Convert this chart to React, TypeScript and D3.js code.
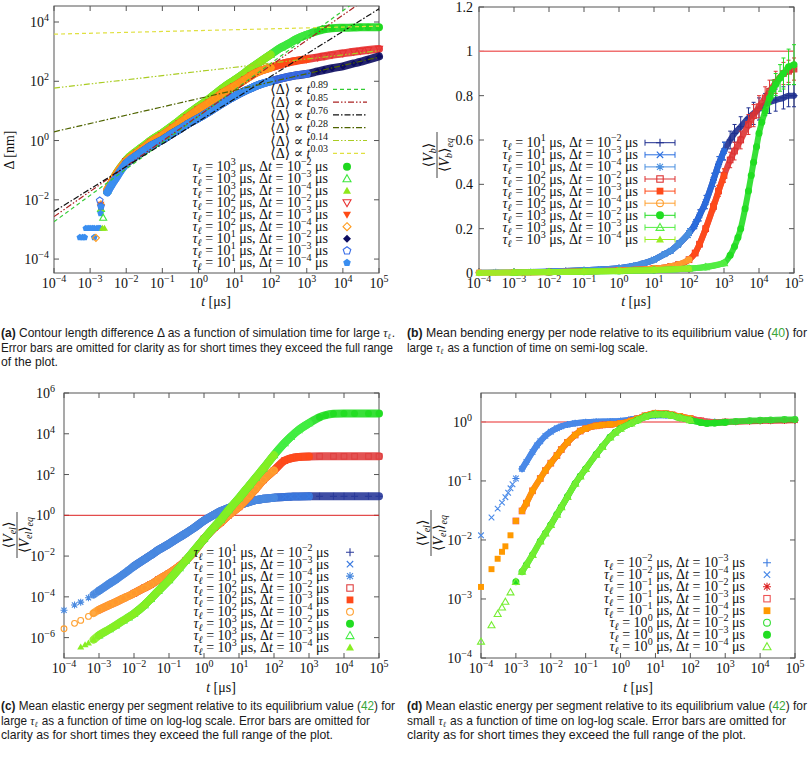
import React from "react";
import * as d3 from "d3";

type Pt = [number, number];
type PtE = [number, number, number];

// ================= Panel (a): contour length difference Δ [nm] vs t [μs]
const aGroupTau10: Pt[] = [
  [2e-3, 0.006], [3e-3, 0.018], [4e-3, 0.033], [5e-3, 0.05], [7e-3, 0.095],
  [1e-2, 0.17], [2e-2, 0.32], [3e-2, 0.45], [5e-2, 0.68], [0.1, 1.05], [0.2, 1.8], [0.3, 2.4], [0.5, 3.6],
  [1, 5.7], [2, 9.5], [3, 13], [5, 19], [10, 31], [20, 48], [30, 60], [50, 78], [100, 100], [200, 125],
  [300, 140], [500, 158], [1e3, 178], [2e3, 215], [3e3, 240], [5e3, 275], [1e4, 320], [2e4, 400],
  [3e4, 450], [5e4, 540], [1e5, 690],
];
const aGroupTau100: Pt[] = [
  [2e-3, 0.007], [3e-3, 0.022], [4e-3, 0.04], [5e-3, 0.065], [7e-3, 0.12],
  [1e-2, 0.2], [2e-2, 0.38], [3e-2, 0.55], [5e-2, 0.9], [0.1, 1.5], [0.2, 2.7], [0.3, 3.8], [0.5, 6],
  [1, 11], [2, 19], [3, 27], [5, 42], [10, 68], [20, 115], [30, 160], [50, 220], [100, 290], [200, 380],
  [300, 430], [500, 490], [1e3, 560], [2e3, 640], [3e3, 700], [5e3, 780], [1e4, 880], [2e4, 990],
  [3e4, 1050], [5e4, 1130], [1e5, 1230],
];
const aGroupTau1000: Pt[] = [
  [2e-3, 0.005], [3e-3, 0.02], [4e-3, 0.04], [5e-3, 0.068], [7e-3, 0.125],
  [1e-2, 0.22], [2e-2, 0.45], [3e-2, 0.65], [5e-2, 1.05], [0.1, 1.8], [0.2, 3.3], [0.3, 4.8], [0.5, 7.8],
  [1, 14], [2, 26], [3, 38], [5, 62], [10, 110], [20, 200], [30, 290], [50, 450], [100, 800], [200, 1400],
  [300, 1800], [500, 2600], [1e3, 3700], [2e3, 5000], [3e3, 5700], [5e3, 6200], [1e4, 6400], [2e4, 6500],
  [3e4, 6600], [5e4, 6600], [1e5, 6600],
];
// early noisy points: [t, value, series index]
const aEarlyScatter: PtE[] = [
  [5.2e-4, 5.4e-4, 8], [6.2e-4, 5.4e-4, 8], [7.1e-4, 5.4e-4, 8], [7.6e-4, 1.1e-3, 8], [8.8e-4, 1.1e-3, 8],
  [1e-3, 1.1e-3, 8], [1.15e-3, 1.1e-3, 8], [1.3e-3, 1.1e-3, 8], [1.3e-3, 5.4e-4, 8], [1.45e-3, 5.2e-4, 5],
  [1.55e-3, 1.1e-3, 8], [1.75e-3, 1.1e-3, 8], [1.9e-3, 1.1e-3, 8], [1.85e-3, 9.5e-3, 7], [1.95e-3, 3.5e-3, 8],
  [2.2e-3, 1.1e-3, 2], [2.5e-3, 1.1e-3, 2], [2.3e-3, 2.5e-3, 1],
];
const aFitExponents = [0.89, 0.85, 0.76, 0.28, 0.14, 0.03];
const aFitPrefactors = [6.6, 6.8, 4.4, 26, 214, 5130];
const aSeriesTauExp = [3, 3, 3, 2, 2, 2, 1, 1, 1];
const aSeriesDtExp = [-2, -3, -4, -2, -3, -4, -2, -3, -4];
const aSeriesGroup = [2, 2, 2, 1, 1, 1, 0, 0, 0];

// ================= Panel (b): bending energy ratio (t, value, error)
const bGroupTau10: PtE[] = [
  [1e-4, 0.002, 0], [3e-4, 0.003, 0], [1e-3, 0.004, 0], [3e-3, 0.005, 0], [1e-2, 0.007, 0], [3e-2, 0.009, 0],
  [0.1, 0.012, 0], [0.3, 0.016, 0], [1, 0.022, 0], [2, 0.028, 0], [3, 0.034, 0], [5, 0.043, 0], [10, 0.06, 0.005],
  [20, 0.085, 0.01], [30, 0.1, 0.01], [50, 0.13, 0.015], [100, 0.18, 0.02], [150, 0.22, 0.02], [200, 0.26, 0.025],
  [300, 0.32, 0.03], [500, 0.42, 0.03], [700, 0.49, 0.035], [1e3, 0.55, 0.04], [1.5e3, 0.6, 0.04], [2e3, 0.63, 0.04],
  [3e3, 0.66, 0.045], [5e3, 0.7, 0.045], [7e3, 0.72, 0.05], [1e4, 0.74, 0.05], [1.5e4, 0.76, 0.05], [2e4, 0.77, 0.05],
  [3e4, 0.78, 0.05], [5e4, 0.79, 0.05], [7e4, 0.8, 0.05], [1e5, 0.8, 0.05],
];
const bGroupTau100: PtE[] = [
  [1e-4, 0.001, 0], [1e-3, 0.002, 0], [1e-2, 0.004, 0], [0.1, 0.007, 0], [1, 0.011, 0], [10, 0.02, 0], [30, 0.03, 0],
  [50, 0.038, 0], [100, 0.06, 0.005], [150, 0.09, 0.01], [200, 0.13, 0.01], [300, 0.2, 0.015], [500, 0.3, 0.02],
  [700, 0.37, 0.025], [1e3, 0.44, 0.03], [1.5e3, 0.51, 0.035], [2e3, 0.55, 0.04], [3e3, 0.6, 0.04], [5e3, 0.67, 0.045],
  [7e3, 0.71, 0.05], [1e4, 0.75, 0.05], [1.5e4, 0.79, 0.05], [2e4, 0.82, 0.05], [3e4, 0.86, 0.05], [5e4, 0.9, 0.05],
  [7e4, 0.91, 0.05], [1e5, 0.92, 0.05],
];
const bGroupTau1000: PtE[] = [
  [1e-4, 0.0, 0], [1e-3, 0.002, 0], [1e-2, 0.004, 0], [0.1, 0.006, 0], [1, 0.009, 0], [10, 0.013, 0], [100, 0.02, 0],
  [300, 0.027, 0], [1e3, 0.045, 0], [1.5e3, 0.08, 0], [2e3, 0.12, 0], [2.5e3, 0.16, 0], [3e3, 0.2, 0], [4e3, 0.29, 0],
  [5e3, 0.37, 0], [6e3, 0.44, 0], [7e3, 0.5, 0], [8.5e3, 0.57, 0], [1e4, 0.63, 0.01], [1.2e4, 0.68, 0.01],
  [1.5e4, 0.73, 0.02], [2e4, 0.79, 0.03], [2.5e4, 0.83, 0.04], [3e4, 0.85, 0.05], [4e4, 0.88, 0.06], [5e4, 0.9, 0.07],
  [7e4, 0.93, 0.08], [1e5, 0.94, 0.09],
];
const bSeriesTauExp = [1, 1, 1, 2, 2, 2, 3, 3, 3];
const bSeriesDtExp = [-2, -3, -4, -2, -3, -4, -2, -3, -4];
const bSeriesGroup = [0, 0, 0, 1, 1, 1, 2, 2, 2];
const bYTicks = [0, 0.2, 0.4, 0.6, 0.8, 1, 1.2];

// ================= Panel (c): elastic energy ratio, large τ
const cGroupTau10: Pt[] = [
  [1e-4, 2.2e-5], [2e-4, 4e-5], [3e-4, 5.5e-5], [5e-4, 9e-5], [7e-4, 1.3e-4], [1e-3, 2e-4], [2e-3, 4.5e-4],
  [3e-3, 7e-4], [5e-3, 1.3e-3], [7e-3, 2e-3], [1e-2, 3.2e-3], [2e-2, 7e-3], [3e-2, 0.011], [5e-2, 0.02],
  [0.1, 0.04], [0.2, 0.085], [0.3, 0.13], [0.5, 0.23], [1, 0.55], [2, 1.1], [3, 1.6], [5, 2.3], [10, 3.2],
  [20, 4.6], [30, 5.5], [50, 6.5], [100, 7.3], [200, 8], [300, 8.2], [500, 8.4], [1e3, 8.5], [2e3, 8.5],
  [5e3, 8.5], [1e4, 8.5], [2e4, 8.5], [5e4, 8.5], [1e5, 8.5],
];
const cGroupTau100: Pt[] = [
  [1e-4, 2.7e-6], [2e-4, 5e-6], [3e-4, 7e-6], [5e-4, 1.1e-5], [7e-4, 1.6e-5], [1e-3, 2.3e-5], [2e-3, 4e-5],
  [3e-3, 5.5e-5], [5e-3, 8.5e-5], [7e-3, 1.1e-4], [1e-2, 1.5e-4], [2e-2, 2.8e-4], [3e-2, 4e-4], [5e-2, 7e-4],
  [0.1, 1.4e-3], [0.2, 3.2e-3], [0.3, 6e-3], [0.5, 0.015], [1, 0.07], [2, 0.25], [3, 0.45], [5, 1.0], [10, 2.6],
  [20, 9], [30, 20], [50, 55], [100, 160], [200, 480], [300, 620], [500, 730], [1e3, 770], [2e3, 780],
  [5e3, 780], [1e4, 780], [2e4, 780], [5e4, 780], [1e5, 780],
];
const cGroupTau1000: Pt[] = [
  [3e-4, 3.5e-7], [4e-4, 4.5e-7], [5e-4, 5.5e-7], [7e-4, 8e-7], [1e-3, 1.3e-6], [2e-3, 2.6e-6], [3e-3, 4e-6],
  [5e-3, 7e-6], [7e-3, 1e-5], [1e-2, 1.5e-5], [2e-2, 4e-5], [3e-2, 8e-5], [5e-2, 2e-4], [0.1, 6.6e-4],
  [0.2, 2.6e-3], [0.3, 6e-3], [0.5, 0.017], [1, 0.07], [2, 0.28], [3, 0.6], [5, 1.8], [10, 7], [20, 30],
  [30, 70], [50, 200], [100, 900], [200, 3500], [300, 7000], [500, 15000], [1e3, 33000], [2e3, 65000],
  [3e3, 82000], [5e3, 95000], [1e4, 100000], [2e4, 100000], [5e4, 100000], [1e5, 100000],
];
const cSeriesTauExp = [1, 1, 1, 2, 2, 2, 3, 3, 3];
const cSeriesDtExp = [-2, -3, -4, -2, -3, -4, -2, -3, -4];
const cSeriesGroup = [0, 0, 0, 1, 1, 1, 2, 2, 2];

// ================= Panel (d): elastic energy ratio, small τ
const dGroupTauM2: Pt[] = [
  [1e-4, 0.012], [2e-4, 0.024], [3e-4, 0.034], [4e-4, 0.043], [5e-4, 0.053], [6e-4, 0.063], [7e-4, 0.075],
  [8e-4, 0.088], [1e-3, 0.11], [1.5e-3, 0.16], [2e-3, 0.21], [3e-3, 0.31], [4e-3, 0.4], [5e-3, 0.47],
  [7e-3, 0.58], [1e-2, 0.68], [1.5e-2, 0.78], [2e-2, 0.84], [3e-2, 0.9], [5e-2, 0.95], [0.1, 0.99],
  [0.2, 1.01], [0.5, 1.02], [1, 1.04], [2, 1.1], [5, 1.22], [10, 1.3], [20, 1.3], [50, 1.2], [100, 1.1],
  [200, 1.03], [500, 1.0], [1e3, 1.0],
];
const dGroupTauM1: Pt[] = [
  [1e-4, 1.6e-3], [2e-4, 3.2e-3], [3e-4, 4.8e-3], [4e-4, 6.3e-3], [5e-4, 7.8e-3], [7e-4, 0.012], [1e-3, 0.021],
  [1.5e-3, 0.031], [2e-3, 0.042], [3e-3, 0.068], [5e-3, 0.11], [7e-3, 0.15], [1e-2, 0.2], [1.5e-2, 0.27],
  [2e-2, 0.34], [3e-2, 0.45], [5e-2, 0.6], [7e-2, 0.7], [0.1, 0.77], [0.2, 0.86], [0.3, 0.89], [0.5, 0.91],
  [1, 0.94], [2, 1.04], [3, 1.13], [5, 1.27], [10, 1.4], [20, 1.38], [30, 1.32], [50, 1.24], [100, 1.14],
  [200, 1.05], [300, 1.0], [500, 0.98], [1e3, 1.0], [2e3, 1.01], [5e3, 1.03], [1e4, 1.04], [2e4, 1.05],
  [5e4, 1.06], [1e5, 1.07],
];
const dGroupTau0: Pt[] = [
  [1e-4, 1.9e-4], [2e-4, 3.6e-4], [3e-4, 5.6e-4], [4e-4, 7.2e-4], [5e-4, 9e-4], [7e-4, 1.3e-3], [1e-3, 1.95e-3],
  [1.5e-3, 2.9e-3], [2e-3, 3.8e-3], [3e-3, 5.6e-3], [5e-3, 9.5e-3], [7e-3, 0.013], [1e-2, 0.018], [1.5e-2, 0.027],
  [2e-2, 0.036], [3e-2, 0.054], [5e-2, 0.09], [7e-2, 0.12], [0.1, 0.16], [0.2, 0.28], [0.3, 0.38], [0.5, 0.55],
  [0.7, 0.66], [1, 0.77], [2, 0.95], [3, 1.07], [5, 1.22], [10, 1.35], [20, 1.33], [30, 1.28], [50, 1.18],
  [100, 1.07], [200, 0.98], [300, 0.95], [500, 0.96], [1e3, 0.99], [2e3, 1.02], [5e3, 1.05], [1e4, 1.07],
  [2e4, 1.08], [5e4, 1.1], [1e5, 1.1],
];
const dSeriesTauExp = [-2, -2, -1, -1, -1, 0, 0, 0];
const dSeriesDtExp = [-3, -4, -2, -3, -4, -2, -3, -4];
const dSeriesGroup = [0, 0, 1, 1, 1, 2, 2, 2];

// simulation windows by time step exponent
const simStart: Record<string, number> = { "-2": 1e-2, "-3": 1e-3, "-4": 1e-4 };
const simEnd: Record<string, number> = { "-2": 1e5, "-3": 1e3, "-4": 1e2 };
const decadeExps = [-4, -3, -2, -1, 0, 1, 2, 3, 4, 5];

// ================= styles
const SERIF = "'Liberation Serif','DejaVu Serif','Times New Roman',serif";
const SANS = "'Liberation Sans',Arial,'DejaVu Sans',sans-serif";
const AX = "#555";
const FS = 14;
const FSS = 10;
const aColors = ["#1fd81f", "#3ee83e", "#8ee81a", "#e83030", "#ff4a14", "#ff9a1a", "#0c0c60", "#3a6ee8", "#3a8ef0"];
const aShapes = ["circle", "triUpOpen", "triUp", "triDownOpen", "triDown", "diamondOpen", "diamond", "pentagonOpen", "pentagon"];
const aFitColors = ["#33cc33", "#aa2222", "#111111", "#4f6400", "#aacc22", "#e0e040"];
const aFitDash = ["4,3", "6,2,1.5,2,1.5,2", "6,2,1.5,2", "6,2,1.5,2", "6,2,1.5,2,1.5,2", "4,3"];
const bColors = ["#1f2f8f", "#2a6ee0", "#4a90e0", "#dd3333", "#ff4a1a", "#ffa030", "#22dd22", "#55ee44", "#99ee22"];
const bShapes = ["plus", "cross", "star", "squareOpen", "square", "circleOpen", "circle", "triUpOpen", "triUp"];
const cColors = ["#2a3a9a", "#3a7ae0", "#4a8ae0", "#e04040", "#ff4a1a", "#ffa030", "#22dd22", "#44ee44", "#88ee22"];
const cShapes = ["plus", "cross", "star", "squareOpen", "square", "circleOpen", "circle", "triUpOpen", "triUp"];
const dColors = ["#3a7ae0", "#4a8ae8", "#dd2222", "#ee5555", "#ff9900", "#33dd33", "#22dd22", "#77ee33"];
const dShapes = ["plus", "cross", "star", "squareOpen", "square", "circleOpen", "circle", "triUpOpen"];

const expStr = (e: number) => (e < 0 ? "\u2212" + Math.abs(e) : String(e));

function Marker({ shape, x, y, c, s }: any) {
  const r = s / 2;
  const sw = 1.1;
  switch (shape) {
    case "circle":
      return <circle cx={x} cy={y} r={r} fill={c} />;
    case "circleOpen":
      return <circle cx={x} cy={y} r={r - 0.6} fill="none" stroke={c} strokeWidth={sw} />;
    case "square":
      return <rect x={x - r * 0.85} y={y - r * 0.85} width={r * 1.7} height={r * 1.7} fill={c} />;
    case "squareOpen":
      return <rect x={x - r * 0.8} y={y - r * 0.8} width={r * 1.6} height={r * 1.6} fill="none" stroke={c} strokeWidth={sw} />;
    case "triUp":
    case "triUpOpen": {
      const d = `M${x},${y - r} L${x + r},${y + r * 0.75} L${x - r},${y + r * 0.75}Z`;
      return shape === "triUp" ? <path d={d} fill={c} /> : <path d={d} fill="none" stroke={c} strokeWidth={sw} />;
    }
    case "triDown":
    case "triDownOpen": {
      const d = `M${x},${y + r} L${x + r},${y - r * 0.75} L${x - r},${y - r * 0.75}Z`;
      return shape === "triDown" ? <path d={d} fill={c} /> : <path d={d} fill="none" stroke={c} strokeWidth={sw} />;
    }
    case "diamond":
    case "diamondOpen": {
      const d = `M${x},${y - r} L${x + r},${y} L${x},${y + r} L${x - r},${y}Z`;
      return shape === "diamond" ? <path d={d} fill={c} /> : <path d={d} fill="none" stroke={c} strokeWidth={sw} />;
    }
    case "pentagon":
    case "pentagonOpen": {
      const pts = d3.range(5).map((k) => {
        const a = -Math.PI / 2 + (k * 2 * Math.PI) / 5;
        return `${x + r * Math.cos(a)},${y + r * Math.sin(a)}`;
      });
      const d = `M${pts.join(" L")}Z`;
      return shape === "pentagon" ? <path d={d} fill={c} /> : <path d={d} fill="none" stroke={c} strokeWidth={sw} />;
    }
    case "plus":
      return <path d={`M${x - r},${y} H${x + r} M${x},${y - r} V${y + r}`} stroke={c} strokeWidth={sw} />;
    case "cross": {
      const q = r * 0.8;
      return <path d={`M${x - q},${y - q} L${x + q},${y + q} M${x - q},${y + q} L${x + q},${y - q}`} stroke={c} strokeWidth={sw} />;
    }
    case "star": {
      const q = r * 0.75;
      return (
        <path
          d={`M${x - r},${y} H${x + r} M${x},${y - r} V${y + r} M${x - q},${y - q} L${x + q},${y + q} M${x - q},${y + q} L${x + q},${y - q}`}
          stroke={c}
          strokeWidth={sw}
        />
      );
    }
    default:
      return null;
  }
}

function Pow10({ x, y, e, anchor = "middle" }: any) {
  return (
    <text x={x} y={y} textAnchor={anchor} fontFamily={SERIF} fontSize={FS} fill="#111">
      10<tspan dy={-6} fontSize={FSS}>{expStr(e)}</tspan>
    </text>
  );
}

function Frame({ xs, ys, yTicks, yLog, yGap }: any) {
  const [x0, x1] = xs.range();
  const [yb, yt] = ys.range();
  const L = 5;
  return (
    <g>
      <rect x={x0} y={yt} width={x1 - x0} height={yb - yt} fill="none" stroke={AX} strokeWidth={1} />
      {decadeExps.map((e) => {
        const x = xs(Math.pow(10, e));
        return (
          <g key={"x" + e}>
            <line x1={x} x2={x} y1={yb} y2={yb - L} stroke={AX} />
            <line x1={x} x2={x} y1={yt} y2={yt + L} stroke={AX} />
            <Pow10 x={x} y={yb + 15} e={e} />
          </g>
        );
      })}
      {yTicks.map((v: number, i: number) => {
        const y = ys(v);
        return (
          <g key={"y" + i}>
            <line x1={x0} x2={x0 + L} y1={y} y2={y} stroke={AX} />
            <line x1={x1} x2={x1 - L} y1={y} y2={y} stroke={AX} />
            {yLog ? (
              <Pow10 x={x0 - yGap} y={y + 5} e={Math.round(Math.log10(v))} anchor="end" />
            ) : (
              <text x={x0 - yGap} y={y + 5} textAnchor="end" fontFamily={SERIF} fontSize={FS} fill="#111">
                {String(+v.toFixed(1))}
              </text>
            )}
          </g>
        );
      })}
    </g>
  );
}

function SeriesLayer({ groups, dtExp, groupOf, colors, shapes, xs, ys, size, band, bandFrom, errors }: any) {
  return (
    <g>
      {dtExp.map((dt: number, i: number) => {
        const lo = simStart[String(dt)];
        const hi = simEnd[String(dt)];
        const pts = groups[groupOf[i]].filter((p: number[]) => p[0] >= lo && p[0] <= hi);
        const bandPts = pts.filter((p: number[]) => p[0] >= bandFrom);
        const line = d3
          .line<number[]>()
          .x((d) => xs(d[0]))
          .y((d) => ys(d[1]))
          .curve(d3.curveMonotoneX);
        return (
          <g key={i}>
            {bandPts.length > 1 && (
              <path d={line(bandPts) || ""} fill="none" stroke={colors[i]} strokeWidth={band} strokeLinecap="round" strokeLinejoin="round" opacity={0.9} />
            )}
            {errors &&
              pts
                .filter((p: number[]) => p[2] > 0)
                .map((p: number[], k: number) => {
                  const x = xs(p[0]);
                  const ya = ys(p[1] - p[2]);
                  const yb = ys(p[1] + p[2]);
                  return (
                    <path key={"e" + k} d={`M${x},${ya} V${yb} M${x - 2},${ya} H${x + 2} M${x - 2},${yb} H${x + 2}`} stroke={colors[i]} strokeWidth={1} fill="none" />
                  );
                })}
            {pts.map((p: number[], k: number) => (
              <Marker key={k} shape={shapes[i]} x={xs(p[0])} y={ys(p[1])} c={colors[i]} s={size} />
            ))}
          </g>
        );
      })}
    </g>
  );
}

function TauLabel({ x, y, tau, dt }: any) {
  return (
    <text x={x} y={y} textAnchor="end" fontFamily={SERIF} fontSize={FS} fill="#111">
      <tspan fontStyle="italic">τ</tspan>
      <tspan fontSize={FSS} dy={3} fontStyle="italic">ℓ</tspan>
      <tspan dy={-3}>{" = 10"}</tspan>
      <tspan fontSize={FSS} dy={-6}>{expStr(tau)}</tspan>
      <tspan dy={6}>{" μs, Δ"}</tspan>
      <tspan fontStyle="italic">t</tspan>
      <tspan>{" = 10"}</tspan>
      <tspan fontSize={FSS} dy={-6}>{expStr(dt)}</tspan>
      <tspan dy={6}>{" μs"}</tspan>
    </text>
  );
}

function Legend({ tauExp, dtExp, colors, shapes, textX, markX, y0, step, errBar }: any) {
  return (
    <g>
      {tauExp.map((t: number, i: number) => {
        const y = y0 + i * step;
        return (
          <g key={i}>
            <TauLabel x={textX} y={y + 4.5} tau={t} dt={dtExp[i]} />
            {errBar && (
              <path d={`M${markX - 15},${y} H${markX + 15} M${markX - 15},${y - 3} V${y + 3} M${markX + 15},${y - 3} V${y + 3}`} stroke={colors[i]} strokeWidth={1} fill="none" />
            )}
            <Marker shape={shapes[i]} x={markX} y={y} c={colors[i]} s={8} />
          </g>
        );
      })}
    </g>
  );
}

function XLabel({ x, y }: any) {
  return (
    <text x={x} y={y} textAnchor="middle" fontFamily={SERIF} fontSize={FS} fill="#111">
      <tspan fontStyle="italic">t</tspan>
      {" [μs]"}
    </text>
  );
}

function FracLabel({ cx, cy, sub, w }: any) {
  return (
    <g transform={`translate(${cx},${cy}) rotate(-90)`} fontFamily={SERIF} fontSize={FS} fill="#111">
      <text x={0} y={-4} textAnchor="middle">
        ⟨<tspan fontStyle="italic">V</tspan>
        <tspan fontSize={FSS} dy={3} fontStyle="italic">{sub}</tspan>
        <tspan dy={-3}>⟩</tspan>
      </text>
      <line x1={-w / 2} x2={w / 2} y1={0} y2={0} stroke="#111" strokeWidth={0.8} />
      <text x={0} y={12} textAnchor="middle">
        ⟨<tspan fontStyle="italic">V</tspan>
        <tspan fontSize={FSS} dy={3} fontStyle="italic">{sub}</tspan>
        <tspan dy={-3}>⟩</tspan>
        <tspan fontSize={FSS} dy={4} fontStyle="italic">eq</tspan>
      </text>
    </g>
  );
}

function TauSym() {
  return (
    <>
      <tspan fontFamily={SERIF} fontStyle="italic">τ</tspan>
      <tspan fontFamily={SERIF} fontStyle="italic" fontSize={8} dy={2}>ℓ</tspan>
      <tspan dy={-2}>{"\u200A"}</tspan>
    </>
  );
}

function Cap({ x, y, w, children }: any) {
  return (
    <text x={x} y={y} fontFamily={SANS} fontSize={13} fill="#1a1a1a" textLength={w} lengthAdjust="spacingAndGlyphs">
      {children}
    </text>
  );
}

export default function App() {
  const xsA = d3.scaleLog().domain([1e-4, 1e5]).range([54, 379]);
  const ysA = d3.scaleLog().domain([Math.pow(10, -4.47), Math.pow(10, 4.54)]).range([273, 6]);
  const xsB = d3.scaleLog().domain([1e-4, 1e5]).range([479, 794]);
  const ysB = d3.scaleLinear().domain([0, 1.2]).range([273, 7]);
  const xsC = d3.scaleLog().domain([1e-4, 1e5]).range([64, 379]);
  const ysC = d3.scaleLog().domain([1e-7, 1e6]).range([658, 393]);
  const xsD = d3.scaleLog().domain([1e-4, 1e5]).range([481, 795]);
  const ysD = d3.scaleLog().domain([1e-4, Math.pow(10, 0.49)]).range([658, 393]);

  const aGroups = [aGroupTau10, aGroupTau100, aGroupTau1000];
  const bGroups = [bGroupTau10, bGroupTau100, bGroupTau1000];
  const cGroups = [cGroupTau10, cGroupTau100, cGroupTau1000];
  const dGroups = [dGroupTauM2, dGroupTauM1, dGroupTau0];

  const green = "#3aa63a";

  return (
    <svg width={810} height={761} style={{ position: "absolute", left: 0, top: 0 }} xmlns="http://www.w3.org/2000/svg">
      <rect width={810} height={761} fill="#fff" />
      <defs>
        <clipPath id="clipA">
          <rect x={54} y={6} width={325} height={267} />
        </clipPath>
      </defs>

      {/* ---------------- Panel (a) */}
      <Frame xs={xsA} ys={ysA} yTicks={[1e-4, 1e-2, 1, 1e2, 1e4]} yLog={true} yGap={5} />
      <SeriesLayer groups={aGroups} dtExp={aSeriesDtExp} groupOf={aSeriesGroup} colors={aColors} shapes={aShapes} xs={xsA} ys={ysA} size={7} band={8} bandFrom={3e-3} />
      {aEarlyScatter.map((p, k) => (
        <Marker key={k} shape={aShapes[p[2]]} x={xsA(p[0])} y={ysA(p[1])} c={aColors[p[2]]} s={7} />
      ))}
      <g clipPath="url(#clipA)">
        {aFitExponents.map((k, i) => {
          const pts: Pt[] = [1e-4, 1e5].map((t) => [t, aFitPrefactors[i] * Math.pow(t, k)] as Pt);
          const ln = d3.line<Pt>().x((d) => xsA(d[0])).y((d) => ysA(d[1]));
          return <path key={i} d={ln(pts) || ""} fill="none" stroke={aFitColors[i]} strokeWidth={1.2} strokeDasharray={aFitDash[i]} />;
        })}
      </g>
      {aFitExponents.map((k, i) => {
        const y = 89.3 + i * 12.8;
        return (
          <g key={i}>
            <text x={328} y={y + 5} textAnchor="end" fontFamily={SERIF} fontSize={FS} fill="#111">
              {"⟨Δ⟩ ∝ "}
              <tspan fontStyle="italic">t</tspan>
              <tspan fontSize={FSS} dy={-6}>{k.toFixed(2)}</tspan>
            </text>
            <line x1={333} x2={367} y1={y} y2={y} stroke={aFitColors[i]} strokeWidth={1.2} strokeDasharray={aFitDash[i]} />
          </g>
        );
      })}
      <Legend tauExp={aSeriesTauExp} dtExp={aSeriesDtExp} colors={aColors} shapes={aShapes} textX={328} markX={347} y0={166.7} step={12} />
      <XLabel x={216} y={306} />
      <text transform="translate(14,150) rotate(-90)" textAnchor="middle" fontFamily={SERIF} fontSize={FS} fill="#111">
        Δ [nm]
      </text>

      {/* ---------------- Panel (b) */}
      <Frame xs={xsB} ys={ysB} yTicks={bYTicks} yLog={false} yGap={6} />
      <line x1={479} x2={794} y1={ysB(1)} y2={ysB(1)} stroke="#f07070" strokeWidth={1.5} />
      <SeriesLayer groups={bGroups} dtExp={bSeriesDtExp} groupOf={bSeriesGroup} colors={bColors} shapes={bShapes} xs={xsB} ys={ysB} size={7} band={6} bandFrom={1e-4} errors={true} />
      <Legend tauExp={bSeriesTauExp} dtExp={bSeriesDtExp} colors={bColors} shapes={bShapes} textX={638} markX={660} y0={142.7} step={12.1} errBar={true} />
      <XLabel x={636} y={306} />
      <FracLabel cx={437} cy={155} sub="b" w={46} />

      {/* ---------------- Panel (c) */}
      <Frame xs={xsC} ys={ysC} yTicks={[1e-6, 1e-4, 1e-2, 1, 1e2, 1e4, 1e6]} yLog={true} yGap={9} />
      <line x1={64} x2={379} y1={ysC(1)} y2={ysC(1)} stroke="#dd2020" strokeWidth={1} />
      <SeriesLayer groups={cGroups} dtExp={cSeriesDtExp} groupOf={cSeriesGroup} colors={cColors} shapes={cShapes} xs={xsC} ys={ysC} size={7} band={8} bandFrom={7e-4} />
      <Legend tauExp={cSeriesTauExp} dtExp={cSeriesDtExp} colors={cColors} shapes={cShapes} textX={329} markX={350} y0={552.3} step={11.9} />
      <XLabel x={221} y={692} />
      <FracLabel cx={17} cy={535} sub="el" w={46} />

      {/* ---------------- Panel (d) */}
      <Frame xs={xsD} ys={ysD} yTicks={[1e-4, 1e-3, 1e-2, 1e-1, 1]} yLog={true} yGap={9} />
      <line x1={481} x2={795} y1={ysD(1)} y2={ysD(1)} stroke="#f07070" strokeWidth={1.5} />
      <SeriesLayer groups={dGroups} dtExp={dSeriesDtExp} groupOf={dSeriesGroup} colors={dColors} shapes={dShapes} xs={xsD} ys={ysD} size={7} band={6} bandFrom={1.5e-3} />
      <Legend tauExp={dSeriesTauExp} dtExp={dSeriesDtExp} colors={dColors} shapes={dShapes} textX={745} markX={767} y0={562.7} step={12} />
      <XLabel x={638} y={692} />
      <FracLabel cx={431} cy={533} sub="el" w={46} />

      {/* ---------------- Captions */}
      <Cap x={1} y={337} w={394}>
        <tspan fontWeight="bold">(a)</tspan>
        {" Contour length difference Δ as a function of simulation time for large "}
        <TauSym />
        {"."}
      </Cap>
      <Cap x={1} y={351.5} w={392}>
        Error bars are omitted for clarity as for short times they exceed the full range
      </Cap>
      <Cap x={1} y={366} w={57}>
        of the plot.
      </Cap>

      <Cap x={407} y={337} w={400}>
        <tspan fontWeight="bold">(b)</tspan>
        {" Mean bending energy per node relative to its equilibrium value ("}
        <tspan fill={green}>40</tspan>
        {") for"}
      </Cap>
      <Cap x={407} y={351.5} w={241}>
        {"large "}
        <TauSym />
        {" as a function of time on semi-log scale."}
      </Cap>

      <Cap x={1} y={710} w={394}>
        <tspan fontWeight="bold">(c)</tspan>
        {" Mean elastic energy per segment relative to its equilibrium value ("}
        <tspan fill={green}>42</tspan>
        {") for"}
      </Cap>
      <Cap x={1} y={724.5} w={369}>
        {"large "}
        <TauSym />
        {" as a function of time on log-log scale.  Error bars are omitted for"}
      </Cap>
      <Cap x={1} y={739} w={332}>
        clarity as for short times they exceed the full range of the plot.
      </Cap>

      <Cap x={407} y={710} w={400}>
        <tspan fontWeight="bold">(d)</tspan>
        {" Mean elastic energy per segment relative to its equilibrium value ("}
        <tspan fill={green}>42</tspan>
        {") for"}
      </Cap>
      <Cap x={407} y={724.5} w={379}>
        {"small "}
        <TauSym />
        {" as a function of time on log-log scale.  Error bars are omitted for"}
      </Cap>
      <Cap x={407} y={739} w={339}>
        clarity as for short times they exceed the full range of the plot.
      </Cap>
    </svg>
  );
}
